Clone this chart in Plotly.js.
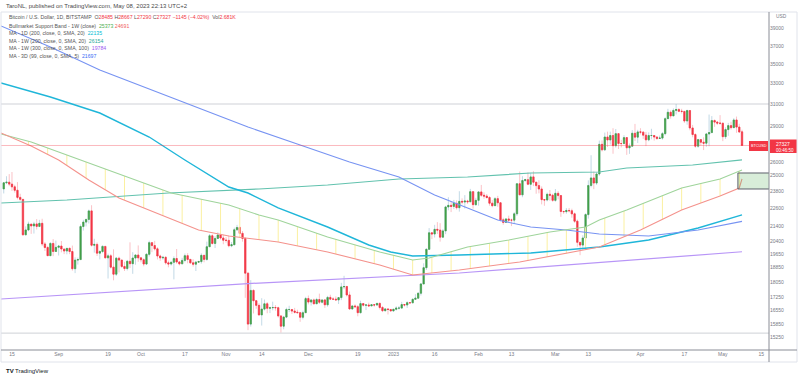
<!DOCTYPE html>
<html><head><meta charset="utf-8">
<script src="https://cdn.plot.ly/plotly-3.0.1.min.js"></script>
<style>html,body{margin:0;padding:0;background:#fff;}#chart{width:800px;height:378px;}</style>
</head><body><div id="chart"></div>
<script>
// ---- daily candles, BTC/USD (Bitstamp), first bar 2022-08-12 ----
const firstDay = '2022-08-12';
const open = [
23950,24400,24440,24300,24100,23850,23340,23200,20830,21140,21520,21400,21530,21370,21570,20260,20040,19550,20290,19800,
20050,20130,19950,19830,19990,19800,18790,19290,19320,21360,21650,21830,22400,20180,20230,19700,19800,20110,19420,19540,18880,18480,19400,19290,18920,18800,19220,19080,19410,19590,
19420,19310,19060,19630,20340,20160,19960,19530,19420,19450,19130,19060,19160,19380,19180,19070,19270,19550,19330,19130,19050,19170,19200,19570,19330,20090,20770,20290,20600,20820,20630,
20490,20480,20150,20210,21150,21300,20920,20600,18540,15880,17590,17050,16810,16330,16620,16890,16660,16690,16700,16690,16280,15780,16220,16600,16600,16520,16460,16440,16210,16440,
17160,16980,17090,16890,17110,16970,17090,16840,17220,17130,17130,17090,17210,17780,17800,17350,16630,16780,16740,16440,16900,16820,16830,16780,16840,16830,16910,16700,16540,16630,16600,
16530,16610,16670,16670,16850,16830,16950,16940,17120,17180,17440,17940,18850,19930,20960,20880,21180,21130,20680,21080,22670,22780,22710,22920,22620,23060,23010,23080,23030,23750,22830,
23130,23730,23490,23430,23330,22930,22760,23250,22960,21800,21630,21860,21780,21780,22200,24330,23520,24570,24630,24290,24840,24440,24190,23940,23180,23160,23560,23490,
23130,23630,23470,22360,22350,22430,22410,22200,21710,20360,20190,20630,22150,24200,24760,24380,25060,27420,26970,28040,27790,28170,27310,28330,27490,27490,27990,27140,27270,28360,28030,
28480,28460,28200,27800,28170,28170,28040,27920,27950,28330,29650,30230,29900,30400,30480,30320,30310,29440,30390,28820,28250,27270,27820,27600,27520,28300,28420,29480,29340,29250,
29230,28070,28680,29030,28850,29530,28900,28485];
const high = [
24450,24890,25050,25210,24250,24450,23600,23200,21370,21680,21520,21670,21850,21800,21870,20380,20140,20370,20560,20470,
20200,20440,19960,20000,20040,20160,19450,19440,21500,21800,21850,22490,22790,20580,20350,19880,20170,20110,19670,19640,19930,19470,19490,19310,19190,19300,20360,19760,19630,20170,
19480,19390,19700,20460,20360,20450,20060,19610,19540,19520,19260,19220,19510,19950,19230,19420,19680,19700,19350,19340,19240,19250,19690,19600,20400,20880,20860,20740,20990,20900,20830,
20680,20790,20380,21290,21470,21360,21070,20670,18580,18150,17650,17080,16920,17180,17110,16980,16740,17000,16820,16740,16300,16280,16690,16790,16620,16680,16590,16480,16540,17250,
17320,17100,17160,17200,17420,17100,17140,17300,17360,17230,17270,17240,18000,18390,17840,17530,16800,16860,16820,17050,16900,16860,16950,16870,16860,16940,16960,16780,16660,16640,16630,
16630,16760,16770,16990,16880,17020,16960,17170,17390,17490,17990,19100,19990,21260,20990,21470,21650,21580,21190,22750,23350,23060,23160,23130,23780,23270,23500,23170,23950,23770,23310,
23780,24240,23700,23580,23430,23150,23360,23450,23000,21940,21900,22080,21880,22310,24380,25250,24890,24700,25180,25120,25270,24470,24590,24130,23220,23680,23870,23600,
23940,23790,23480,22410,22590,22600,22550,22290,21820,20370,20800,22240,24580,26530,25250,25200,27740,27750,28420,28500,28500,28800,28730,28380,27800,28190,28030,27500,28630,29180,28660,
28800,28530,28480,28440,28750,28180,28100,28170,28470,29770,30550,30400,30590,31000,30620,30550,30310,30470,30400,29090,28360,27880,27820,28010,28390,30020,29880,29580,29430,29970,
29330,28880,29270,29370,29690,29840,29190,28667];
const low = [
23620,24300,24150,23800,23680,23200,23100,20780,20800,21060,20890,20910,21170,21320,20130,19830,19530,19550,19520,19800,
19560,19750,19640,19630,19640,18680,18540,19030,19300,21100,21370,21560,20100,19730,19530,19330,19700,19400,18240,18800,18140,18380,18580,18840,18660,18690,18830,18500,19020,19190,
19160,18930,19000,19500,19760,19860,19330,19250,19320,19030,18870,18970,18190,19080,18980,19070,19160,19100,19070,18910,18660,19120,19080,19160,19250,20070,20220,20010,20560,20530,20240,
20340,20050,20060,20190,21100,20900,20400,17200,15590,15760,16400,16640,16290,15810,16550,16410,16420,16560,16540,16200,15480,15630,16170,16470,16380,16400,16410,15990,16110,16430,
16860,16800,16860,16880,16880,16910,16680,16740,17100,17090,17070,16880,17080,17660,17270,16580,16580,16670,16260,16400,16750,16570,16770,16780,16740,16780,16600,16470,16490,16350,16490,
16490,16550,16600,16660,16750,16680,16900,16920,17110,17150,17320,17930,18720,19900,20560,20660,20880,20400,20660,20870,22440,22320,22520,22490,22350,22850,22560,22880,23000,22560,22750,
22760,23380,23240,23260,22760,22650,22750,22680,21700,21480,21600,21630,21390,21540,22060,23520,23350,24460,24220,23870,24150,23600,23630,22850,22750,23060,23110,23030,
23030,23200,22000,22200,22210,22300,21940,21600,20090,19580,19900,20430,21880,24060,23930,24240,24920,26840,26880,27200,27400,26650,27150,27040,27170,27430,26560,26640,27250,27700,27540,
28270,27880,27280,27680,27850,27740,27790,27890,27810,28180,29630,29650,29880,30030,30240,30120,29270,29110,28620,28020,27140,27140,27330,26950,27220,27260,28390,28920,29090,29100,
27690,27870,28140,28680,28820,28400,28400,27290];
const close = [
24400,24440,24300,24100,23850,23340,23200,20830,21140,21520,21400,21530,21370,21570,20260,20040,19550,20290,19800,20050,
20130,19950,19830,19990,19800,18790,19290,19320,21360,21650,21830,22400,20180,20230,19700,19800,20110,19420,19540,18880,18480,19400,19290,18920,18800,19220,19080,19410,19590,19420,
19310,19060,19630,20340,20160,19960,19530,19420,19450,19130,19060,19160,19380,19180,19070,19270,19550,19330,19130,19050,19170,19200,19570,19330,20090,20770,20290,20600,20820,20630,20490,
20480,20150,20210,21150,21300,20920,20600,18540,15880,17590,17050,16810,16330,16620,16890,16660,16690,16700,16690,16280,15780,16220,16600,16600,16520,16460,16440,16210,16440,17160,
16980,17090,16890,17110,16970,17090,16840,17220,17130,17130,17090,17210,17780,17800,17350,16630,16780,16740,16440,16900,16820,16830,16780,16840,16830,16910,16700,16540,16630,16600,16530,
16610,16670,16670,16850,16830,16950,16940,17120,17180,17440,17940,18850,19930,20960,20880,21180,21130,20680,21080,22670,22780,22710,22920,22620,23060,23010,23080,23030,23750,22830,23130,
23730,23490,23430,23330,22930,22760,23250,22960,21800,21630,21860,21780,21780,22200,24330,23520,24570,24630,24290,24840,24440,24190,23940,23180,23160,23560,23490,23130,
23630,23470,22360,22350,22430,22410,22200,21710,20360,20190,20630,22150,24200,24760,24380,25060,27420,26970,28040,27790,28170,27310,28330,27490,27490,27990,27140,27270,28360,28030,28480,
28460,28200,27800,28170,28170,28040,27920,27950,28330,29650,30230,29900,30400,30480,30320,30310,29440,30390,28820,28250,27270,27820,27600,27520,28300,28420,29480,29340,29250,29230,
28070,28680,29030,28850,29530,28900,28470,27327];

// ---- indicator lines ----
const emaDates = ['2022-08-11','2022-08-22','2022-09-01','2022-09-09','2022-09-27','2022-10-12','2022-11-02','2022-11-13','2022-11-20','2022-12-08','2022-12-27','2023-01-08','2023-01-14','2023-01-28','2023-02-12','2023-02-27','2023-03-12','2023-03-17','2023-03-27','2023-04-16','2023-04-30','2023-05-08'];
const emaVals  = [28298,27619,26791,26148,24757,23653,22806,22122,21788,20692,19771,19294,19412,20072,20503,21009,21330,21788,22461,24017,24680,25373];
const smaDates = ['2022-08-11','2022-08-22','2022-09-01','2022-09-12','2022-09-23','2022-10-22','2022-11-02','2022-11-13','2022-11-20','2022-12-08','2022-12-27','2023-01-08','2023-01-25','2023-02-16','2023-03-02','2023-03-17','2023-04-01','2023-04-16','2023-04-30','2023-05-07','2023-05-08'];
const smaVals  = [28386,27283,26148,24605,23297,21136,20755,20503,20379,19771,19004,18433,18716,19180,19590,20072,21136,22461,23439,24017,24691];
const ma1dDates = ['2022-08-11','2022-08-29','2022-09-16','2022-10-04','2022-10-17','2022-11-02','2022-11-09','2022-11-20','2022-12-08','2022-12-23','2022-12-31','2023-01-08','2023-01-25','2023-02-20','2023-03-17','2023-04-04','2023-04-22','2023-05-08'];
const ma1dVals  = [33043,31667,30163,28041,26148,24088,23653,22600,21330,20194,19771,19530,19590,19710,20072,20503,21267,22135];
const ma1w200Dates = ['2022-08-11','2022-09-04','2022-10-11','2022-11-13','2022-12-08','2023-01-03','2023-01-28','2023-02-20','2023-03-17','2023-03-27','2023-04-20','2023-05-08'];
const ma1w200Vals  = [22945,23154,23653,23943,24235,24680,24831,25136,25212,25520,25755,26154];
const ma1w300Dates = ['2022-08-11','2022-11-13','2023-01-25','2023-05-08'];
const ma1w300Vals  = [17137,17990,18547,19784];
const ma3dDates = ['2022-08-11','2022-08-29','2022-09-16','2022-10-04','2022-10-22','2022-11-09','2022-11-28','2022-12-16','2023-01-03','2023-01-16','2023-01-28','2023-02-08','2023-02-20','2023-03-05','2023-03-17','2023-04-04','2023-04-22','2023-05-08'];
const ma3dVals  = [39295,36865,34377,32447,30625,28907,27368,25990,24831,23510,22600,21788,21330,21136,20882,20755,21136,21697];

const yTickVals = [39000,37000,35000,33000,31000,29000,26000,25000,23800,22600,21400,20400,19650,18850,18050,17250,16550,15850,15250];
const xTickVals = ['2022-08-15','2022-09-01','2022-09-19','2022-10-01','2022-10-17','2022-11-01','2022-11-14','2022-12-01','2022-12-19','2023-01-01','2023-01-16','2023-02-01','2023-02-13','2023-03-01','2023-03-13','2023-04-01','2023-04-17','2023-05-01','2023-05-15'];
const xTickText = ['15','Sep','19','Oct','17','Nov','14','Dec','19','2023','16','Feb','13','Mar','13','Apr','17','May','15'];
const lastPrice = 27327;
const hLines = [31000, 15450];
const boxDates = ['2023-05-06 12:00','2023-05-20'];
const boxPrices = [23943, 25136];

// ---- build ----
const DAY = 86400000;
const t0 = Date.parse(firstDay + 'T00:00:00Z');
const dates = close.map((_, i) => new Date(t0 + i*DAY).toISOString().slice(0,10));
const bodyHi = open.map((o,i)=>Math.max(o, close[i]));
const bodyLo = open.map((o,i)=>Math.min(o, close[i]));

function interp(ds, vs, t){
  const ts = ds.map(d=>Date.parse(d+'T00:00:00Z'));
  if (t<=ts[0]) return vs[0];
  for (let i=1;i<ts.length;i++){
    if (t<=ts[i]){ const f=(t-ts[i-1])/(ts[i]-ts[i-1]); return Math.exp(Math.log(vs[i-1])*(1-f)+Math.log(vs[i])*f); }
  }
  return vs[vs.length-1];
}
const fx=[], fy=[];
for (let t=Date.parse('2022-08-14T00:00:00Z'); t<=Date.parse('2023-05-07T00:00:00Z'); t+=7*DAY){
  const d = new Date(t).toISOString().slice(0,10);
  fx.push(d,d,null); fy.push(interp(emaDates,emaVals,t), interp(smaDates,smaVals,t), null);
}

const line = (x,y,color,w)=>({type:'scatter',mode:'lines',x,y,line:{color,width:w},hoverinfo:'skip',showlegend:false});
const traces = [
  {type:'candlestick',x:dates,open,high,low,close,whiskerwidth:0,hoverinfo:'skip',showlegend:false,
   increasing:{line:{color:'rgba(120,170,200,0.45)',width:1},fillcolor:'rgba(0,0,0,0)'},
   decreasing:{line:{color:'rgba(242,54,69,0.3)',width:1},fillcolor:'rgba(0,0,0,0)'}},
  {type:'candlestick',x:dates,open,high:bodyHi,low:bodyLo,close,whiskerwidth:0,hoverinfo:'skip',showlegend:false,
   increasing:{line:{color:'#43a047',width:0.6},fillcolor:'#43a047'},
   decreasing:{line:{color:'#f23645',width:0.6},fillcolor:'#f23645'}},
  line(fx,fy,'#fbf0a0',1),
  line(ma1w300Dates,ma1w300Vals,'#b895f7',1.2),
  line(ma1w200Dates,ma1w200Vals,'#62c2ae',1.2),
  line(ma1dDates,ma1dVals,'#1fb6d9',1.4),
  line(ma3dDates,ma3dVals,'#7793f2',1.1),
  line(emaDates,emaVals,'#9fd49b',1.1),
  line(smaDates,smaVals,'#f4928c',1.1)
];

const PX = x => (x-1)/768, PY = y => (350-y)/338;
const F = 'Liberation Sans, Arial, sans-serif';
const ann = (x,y,text,size,color,extra)=>Object.assign({xref:'paper',yref:'paper',x:PX(x),y:PY(y),xanchor:'left',yanchor:'middle',text,showarrow:false,font:{family:F,size,color}},extra||{});
const R='#f23645';
const s=(c,t)=>`<span style="color:${c}">${t}</span>`;

const annotations = [
  ann(4,6,'TaroNL, published on TradingView.com, May 08, 2023 22:13 UTC+2',6,'#4a4a4a'),
  ann(7,17.3,'Bitcoin / U.S. Dollar, 1D, BITSTAMP&nbsp; O'+s(R,'28485')+' H'+s(R,'28667')+' L'+s(R,'27290')+' C'+s(R,'27327')+' '+s(R,'−1145 (−4.02%)')+'&nbsp; Vol'+s(R,'2.681K'),5.2,'#555'),
  ann(7,25.7,'Bullmarket Support Band - 1W (close)&nbsp; '+s('#4caf50','25373')+' '+s('#f0605d','24691'),5.2,'#555'),
  ann(7,33.3,'MA - 1D (200, close, 0, SMA, 20)&nbsp; '+s('#00bcd4','22135'),5.2,'#555'),
  ann(7,40.7,'MA - 1W (200, close, 0, SMA, 20)&nbsp; '+s('#26a69a','26154'),5.2,'#555'),
  ann(7,48.3,'MA - 1W (300, close, 0, SMA, 100)&nbsp; '+s('#9b59f0','19784'),5.2,'#555'),
  ann(7,55.7,'MA - 3D (99, close, 0, SMA, 5)&nbsp; '+s('#3d6bf5','21697'),5.2,'#555'),
  ann(774,17,'USD',4.8,'#787b86'),
  ann(759,146,'BTCUSD',3.8,'#fff',{xanchor:'center'}),
  ann(774,144,'27327',5,'#fff'),
  ann(774,150,'00:46:50',4.5,'#fff'),
  ann(4,370.5,'<b>TV</b>',6,'#131722'),
  ann(13,370.5,'TradingView',6,'#131722')
];

const pl = (x0,y0,x1,y1,color,w)=>({type:'line',xref:'paper',yref:'paper',x0:PX(x0),y0:PY(y0),x1:PX(x1),y1:PY(y1),line:{color,width:w}});
const shapes = [
  ...hLines.map(v=>({type:'line',xref:'paper',yref:'y',x0:0,x1:1,y0:v,y1:v,line:{color:'#cfd1d7',width:1},layer:'below'})),
  {type:'line',xref:'paper',yref:'y',x0:0,x1:PX(750),y0:lastPrice,y1:lastPrice,line:{color:'rgba(242,54,69,0.35)',width:1}},
  {type:'rect',xref:'x',yref:'y',x0:boxDates[0],x1:boxDates[1],y0:boxPrices[0],y1:boxPrices[1],fillcolor:'rgba(76,175,80,0.22)',line:{color:'#5d606b',width:1}},
  {type:'rect',xref:'paper',yref:'paper',x0:PX(749),x1:PX(768),y0:PY(151),y1:PY(141),fillcolor:R,line:{width:0}},
  {type:'rect',xref:'paper',yref:'paper',x0:PX(770),x1:PX(797),y0:PY(153),y1:PY(139.5),fillcolor:R,line:{width:0}},
  {type:'rect',xref:'paper',yref:'paper',x0:PX(1),x1:PX(797),y0:PY(362),y1:PY(12),line:{color:'#e0e3eb',width:1}},
  pl(769,12,769,362,'#8a8d96',1),
  pl(1,350,797,350,'#8a8d96',1)
];

const layout = {
  width:800,height:378,margin:{l:1,r:31,t:12,b:28},
  paper_bgcolor:'#fff',plot_bgcolor:'#fff',showlegend:false,
  xaxis:{type:'date',range:['2022-08-11','2023-05-17 20:00'],rangeslider:{visible:false},showgrid:false,zeroline:false,
    tickvals:xTickVals,ticktext:xTickText,ticks:'',tickfont:{family:F,size:5,color:'#787b86'},automargin:false,fixedrange:true},
  yaxis:{type:'log',side:'right',range:[Math.log10(14677),Math.log10(41002)],showgrid:false,zeroline:false,
    tickvals:yTickVals,ticktext:yTickVals.map(String),ticks:'',tickfont:{family:F,size:5,color:'#787b86'},automargin:false,fixedrange:true},
  annotations,shapes
};
Plotly.newPlot('chart',traces,layout,{displayModeBar:false,staticPlot:true});
</script></body></html>
